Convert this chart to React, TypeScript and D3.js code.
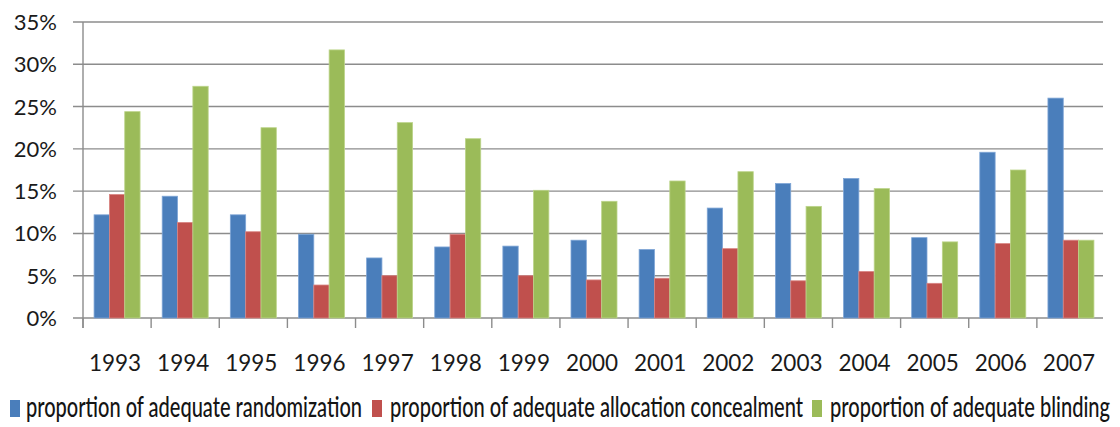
import React, { useLayoutEffect, useRef } from "react";
import * as d3 from "d3";

const years = ["1993","1994","1995","1996","1997","1998","1999","2000","2001","2002","2003","2004","2005","2006","2007"];
const randomization = [12.2,14.4,12.2,9.9,7.1,8.4,8.5,9.2,8.1,13.0,15.9,16.5,9.5,19.6,26.0];
const concealment = [14.6,11.3,10.2,3.9,5.0,9.9,5.0,4.5,4.7,8.2,4.4,5.5,4.1,8.8,9.2];
const blinding = [24.4,27.4,22.5,31.7,23.1,21.2,15.1,13.8,16.2,17.3,13.2,15.3,9.0,17.5,9.2];
const yTicks = [0,5,10,15,20,25,30,35];
const seriesNames = [
  "proportion of adequate randomization",
  "proportion of adequate allocation concealment",
  "proportion of adequate blinding",
];
const seriesColors = ["#4a7ebb", "#c0504d", "#9bbb59"];
const seriesStrokes = ["#7fa6d6", "#d98583", "#bcd48a"];

const W = 1120, H = 427;
const left = 83, right = 1105, top = 22, bottom = 318;

export default function App() {
  const x = d3.scaleBand<string>().domain(years).range([left, right]).padding(0);
  const y = d3.scaleLinear().domain([0, 35]).range([bottom, top]);
  const groupW = 46;
  const x1 = d3.scaleBand<number>().domain([0, 1, 2]).range([0, groupW]).padding(0);
  const data = [randomization, concealment, blinding];
  const step = x.bandwidth();
  const font = "Lato, 'Open Sans', sans-serif";

  const legendItems = [
    { sq: 10, tx: 26, len: 336 },
    { sq: 372, tx: 390, len: 413 },
    { sq: 812, tx: 830, len: 280 },
  ];
  const legendRefs = useRef<(SVGTextElement | null)[]>([]);

  useLayoutEffect(() => {
    legendRefs.current.forEach((el, k) => {
      if (!el) return;
      const natural = el.getComputedTextLength();
      const s = natural > 0 ? legendItems[k].len / natural : 1;
      el.setAttribute("transform", `translate(${legendItems[k].tx},417) scale(${s},1)`);
    });
  }, []);

  return (
    <svg width={W} height={H} style={{ position: "absolute", left: 0, top: 0, background: "#fff" }}>
      {yTicks.map((t) => (
        <g key={t}>
          <line x1={left - 10} x2={1103} y1={y(t)} y2={y(t)} stroke="#8c8c8c" strokeWidth={1.4} />
          <text x={57} y={y(t) + 8} textAnchor="end" fontFamily={font} fontSize={22} fill="#1a1a1a">
            {t}%
          </text>
        </g>
      ))}
      <line x1={left} x2={left} y1={top} y2={bottom + 10} stroke="#8c8c8c" strokeWidth={1.4} />
      {years.map((yr) => (
        <line key={"t" + yr} x1={x(yr)!} x2={x(yr)!} y1={bottom} y2={bottom + 10} stroke="#8c8c8c" strokeWidth={1.4} />
      ))}
      {years.map((yr, i) => (
        <g key={yr} transform={`translate(${x(yr)! + (step - groupW) / 2},0)`}>
          {data.map((s, k) => (
            <rect
              key={k}
              x={x1(k)!}
              y={y(s[i])}
              width={x1.bandwidth()}
              height={y(0) - y(s[i])}
              fill={seriesColors[k]}
              stroke={seriesStrokes[k]}
              strokeWidth={0.8}
            />
          ))}
        </g>
      ))}
      {years.map((yr) => (
        <text key={"l" + yr} x={x(yr)! + step / 2 - 2} y={371} textAnchor="middle" fontFamily={font} fontSize={22.5} fill="#1a1a1a">
          {yr}
        </text>
      ))}
      {seriesNames.map((n, k) => (
        <g key={n}>
          <rect x={legendItems[k].sq} y={400} width={10} height={17} fill={seriesColors[k]} />
          <text
            ref={(el) => { legendRefs.current[k] = el; }}
            transform={`translate(${legendItems[k].tx},417) scale(0.7,1)`}
            x={0}
            y={0}
            fontFamily={font}
            fontSize={28}
            fontWeight={500}
            fill="#141414"
          >
            {n}
          </text>
        </g>
      ))}
    </svg>
  );
}
